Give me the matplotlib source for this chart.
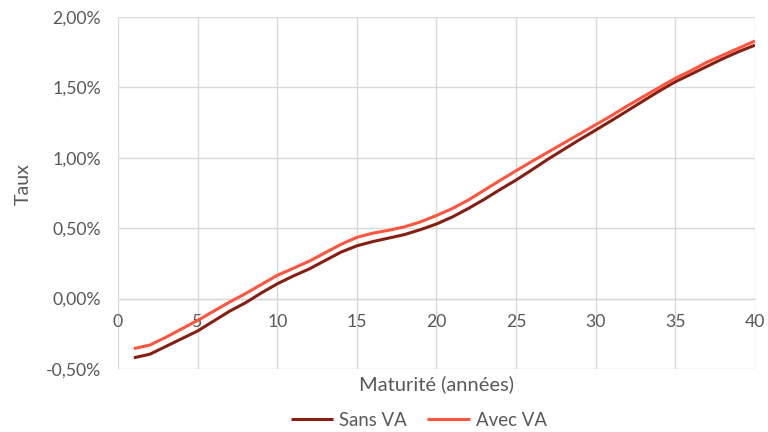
import matplotlib
matplotlib.use("Agg")
import matplotlib.pyplot as plt
from matplotlib.ticker import FuncFormatter

maturities = list(range(1, 41))
sans_va = [-0.42, -0.395, -0.34, -0.285, -0.23, -0.16, -0.09, -0.03, 0.04, 0.105,
           0.16, 0.21, 0.27, 0.33, 0.375, 0.405, 0.43, 0.455, 0.49, 0.53,
           0.58, 0.64, 0.705, 0.775, 0.842, 0.915, 0.99, 1.06, 1.13, 1.197,
           1.265, 1.335, 1.405, 1.475, 1.54, 1.595, 1.65, 1.705, 1.755, 1.80]
avec_va = [-0.355, -0.33, -0.275, -0.215, -0.155, -0.09, -0.025, 0.035, 0.10, 0.165,
           0.215, 0.265, 0.325, 0.385, 0.435, 0.465, 0.485, 0.51, 0.545, 0.59,
           0.64, 0.70, 0.77, 0.84, 0.908, 0.975, 1.04, 1.105, 1.17, 1.235,
           1.30, 1.37, 1.435, 1.50, 1.565, 1.62, 1.68, 1.73, 1.78, 1.83]
x_ticks = list(range(0, 41, 5))
y_ticks = [-0.5, 0.0, 0.5, 1.0, 1.5, 2.0]

plt.rcParams['font.family'] = ['Lato', 'DejaVu Sans']
text_color = '#595959'
grid_color = '#d9d9d9'

fig = plt.figure(figsize=(7.68, 4.32), dpi=100)
ax = fig.add_axes([0.1536, 0.1458, 0.8294, 0.8148])

line_kw = dict(lw=2.2, solid_capstyle='butt', solid_joinstyle='round', zorder=3)
ax.plot(maturities, sans_va, color='#861F12', label='Sans VA', **line_kw)
ax.plot(maturities, avec_va, color='#FF553F', label='Avec VA', **line_kw)

ax.set_xlim(0, 40)
ax.set_ylim(-0.5, 2.0)
ax.set_xticks(x_ticks)
ax.set_yticks(y_ticks)
ax.yaxis.set_major_formatter(FuncFormatter(lambda v, p: f"{v:.2f}%".replace('.', ',')))

ax.grid(True, color=grid_color, lw=1.0)
ax.set_axisbelow(True)
for side in ('top', 'right', 'left'):
    ax.spines[side].set_visible(False)
ax.spines['bottom'].set_position(('data', 0))
ax.spines['bottom'].set_color(grid_color)
ax.spines['bottom'].set_linewidth(1.0)

ax.tick_params(axis='both', length=0, colors=text_color, labelsize=12.7)
ax.tick_params(axis='x', pad=11)
ax.tick_params(axis='y', pad=12)

ax.set_xlabel('Maturité (années)', color=text_color, fontsize=14.5)
ax.set_ylabel('Taux', color=text_color, fontsize=14)
ax.xaxis.set_label_coords(0.5, -0.017)
ax.yaxis.set_label_coords(-0.135, 0.525)

leg = ax.legend(loc='center', bbox_to_anchor=(0.472, -0.146), ncol=2,
                frameon=False, fontsize=13.4, handlelength=2.3, columnspacing=1.1,
                handletextpad=0.3)
for t in leg.get_texts():
    t.set_color(text_color)

fig.savefig('out.png', dpi=100, facecolor='white')
